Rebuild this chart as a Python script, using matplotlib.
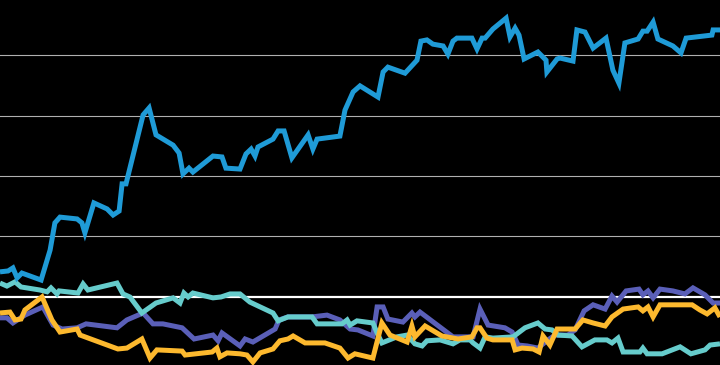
import numpy as np
import matplotlib
matplotlib.use("Agg")
from matplotlib import pyplot as plt

# Series data: day index (0..240) and percent change
blue_x = [0, 2.7, 4.3, 5.7, 7.3, 13.7, 16.7, 18.3, 20, 25.7, 27.3, 28.3, 31.3, 35.7, 37.7, 39.7,
          40.7, 42, 47.7, 49.7, 52, 57.7, 59.7, 61, 63, 64.3, 71, 74, 75.3, 80, 82, 83.7, 85, 86,
          91, 92.7, 94.7, 97.3, 102.7, 104.3, 105.7, 113.3, 115, 117.7, 120, 126, 127.7, 129.3,
          135, 139, 140.3, 142.3, 144.3, 147.7, 149.3, 151, 152.3, 157.3, 159, 160.7, 161.7,
          164.3, 168.7, 170, 171.7, 173, 174.7, 179.3, 182, 182.3, 185.7, 186.7, 191, 192.3, 195,
          197.7, 202, 204.3, 206.3, 208.3, 212.7, 214.3, 215.7, 217.7, 219.3, 224.3, 227, 228.7,
          237.3, 237.7, 240]
blue_y = [8.3, 8.6, 9.6, 6.3, 7.9, 5.6, 15.5, 24.5, 26.4, 25.8, 24.5, 21.2, 31.1, 29.1, 27.1, 28.4,
          37.4, 37.4, 60.2, 62.5, 53.6, 50.2, 47.6, 40.7, 42.6, 41.3, 46.6, 46.3, 42.6, 42.3, 47.3,
          48.9, 46.6, 49.6, 52.2, 54.9, 54.9, 46.0, 53.6, 48.9, 52.2, 53.2, 61.8, 67.8, 69.8, 66.1,
          74.4, 76.0, 74.0, 78.3, 84.6, 85.0, 83.6, 83.0, 80.3, 84.6, 85.6, 85.6, 82.0, 85.6, 85.6,
          88.6, 92.2, 86.0, 88.9, 86.6, 78.7, 81.0, 78.3, 74.4, 78.7, 79.0, 78.0, 88.3, 87.6, 82.3,
          85.6, 75.0, 70.7, 84.0, 85.3, 87.9, 87.9, 90.9, 85.3, 83.0, 80.7, 85.6, 86.6, 88.3, 88.3]

teal_x = [0, 2.3, 5, 7, 13.3, 15.7, 17, 19, 19.7, 26, 27.7, 29.3, 39, 41, 43.3, 47.3, 52, 57.7, 60,
          61.3, 62.7, 64.3, 71, 73.7, 76.7, 80, 83.3, 91, 92.7, 96, 104, 105.7, 114, 115.7, 116.7,
          119, 124.3, 125.7, 127.3, 132.3, 135.7, 138.3, 140.7, 142.3, 146.7, 151, 153.3, 156.7,
          157.7, 160, 161.7, 164.3, 171, 175, 179.3, 181.7, 184, 186, 190.7, 194, 198.3, 202.3,
          204, 206, 207.7, 213.3, 214.3, 215.7, 220.7, 226.7, 230.3, 235, 236.7, 240]
teal_y = [4.6, 3.6, 5.0, 3.3, 2.3, 1.7, 3.0, 1.0, 2.0, 1.3, 4.3, 2.3, 4.6, 1.0, 0, -5.3, -2.0, -0.3,
          -2.0, 1.3, 0, 1.3, -0.3, 0, 1.0, 1.0, -1.7, -5.3, -7.9, -6.6, -6.6, -8.9, -8.9, -7.6, -9.3,
          -7.9, -8.6, -11.9, -15.2, -13.2, -12.6, -15.5, -16.2, -14.5, -14.2, -15.5, -14.2, -14.2,
          -15.2, -16.9, -13.2, -13.6, -13.2, -10.2, -8.6, -10.6, -10.9, -12.6, -12.9, -16.5, -14.2,
          -14.2, -15.2, -13.6, -18.2, -18.2, -16.9, -18.8, -18.8, -16.5, -18.8, -17.5, -15.9, -15.5]

purple_x = [0, 2.3, 4.3, 8.3, 14.3, 17.7, 20.7, 25.7, 28.7, 39, 42.3, 47.7, 51, 54.3, 60.7, 64.7,
            71, 72.7, 74, 80, 81.7, 84.3, 91.7, 93, 96, 104, 109, 113.3, 116.7, 119.3, 124.3, 125.7,
            127.7, 129.3, 134.3, 137.3, 138.3, 140, 151, 157.7, 160, 162.7, 168.3, 170.7, 172.7,
            175.7, 179.3, 182.7, 185, 189.3, 191.7, 194.7, 197.7, 201.7, 204, 205.7, 208.7, 213,
            214.3, 216, 217.7, 220, 224.3, 228.3, 231, 235, 237.7, 240]
purple_y = [-6.9, -6.9, -8.6, -6.0, -3.3, -9.3, -10.6, -10.2, -8.9, -10.2, -7.6, -5.3, -8.9, -8.9,
            -10.2, -13.9, -12.6, -14.5, -11.9, -16.2, -13.9, -14.9, -10.6, -7.6, -6.6, -6.6, -6.0,
            -7.6, -10.6, -10.9, -12.9, -3.3, -3.3, -7.3, -8.3, -5.3, -6.6, -5.0, -13.2, -13.2, -4.0,
            -9.3, -10.2, -11.6, -15.9, -16.2, -16.9, -14.2, -12.6, -12.6, -10.9, -4.6, -2.6, -4.0,
            0.3, -1.7, 2.0, 2.6, 0.7, 2.0, -0.3, 2.6, 2.0, 1.0, 3.0, 0.7, -2.0, -2.0]

yellow_x = [0, 3.3, 5, 7, 8.3, 14, 17.3, 20, 25.7, 26.7, 39.3, 42.3, 47.3, 50, 52.3, 60.7, 61.7,
            70.7, 72.3, 73.3, 75.7, 80, 82.3, 84.3, 86.7, 91, 93.3, 96, 97.7, 101.7, 108.3, 113.3,
            116, 118.3, 124.3, 127.3, 130, 135.7, 137.3, 138.3, 141.7, 147.3, 152.7, 157.3, 159,
            160, 162.3, 164.3, 170.7, 171.7, 174, 177.7, 179.7, 181, 183.3, 185.7, 191.7, 194.3,
            197.7, 201.7, 204, 207.7, 212.7, 214.3, 216, 217.7, 220, 230.7, 233.3, 235.7, 238.3, 240]
yellow_y = [-5.3, -5.0, -7.6, -7.3, -4.3, 0, -7.6, -11.6, -10.6, -12.6, -17.2, -16.9, -13.9, -20.2,
            -17.5, -17.9, -19.2, -18.2, -16.9, -19.8, -18.5, -18.8, -19.2, -21.5, -18.5, -17.2,
            -14.5, -13.9, -12.9, -15.2, -15.2, -16.9, -20.2, -18.8, -20.2, -8.6, -12.6, -14.9, -9.6,
            -13.2, -9.6, -12.9, -13.9, -13.2, -10.2, -10.2, -13.6, -14.2, -14.2, -17.5, -16.9,
            -17.2, -18.2, -12.9, -15.9, -10.6, -10.6, -7.6, -8.6, -9.6, -6.6, -4.0, -3.3, -4.6,
            -3.3, -6.6, -2.6, -2.6, -4.3, -5.6, -3.6, -6.6]

grid_levels = [20, 40, 60, 80]

fig = plt.figure(figsize=(7.2, 3.65), dpi=100, facecolor="black")
ax = fig.add_axes([0, 0, 1, 1])
ax.set_facecolor("black")

for g in grid_levels:
    ax.axhline(g, color="#b0b0b0", lw=0.8, zorder=1)
ax.axhline(0, color="white", lw=1.6, zorder=1)

# draw order: purple under teal under yellow under blue
kw = dict(lw=3.6, solid_joinstyle="miter", solid_capstyle="butt")
ax.plot(purple_x, purple_y, color="#5a5fb8", zorder=2, **kw)
ax.plot(teal_x, teal_y, color="#66cccc", zorder=3, **kw)
ax.plot(yellow_x, yellow_y, color="#fdb92e", zorder=4, **kw)
ax.plot(blue_x, blue_y, color="#1f9bd7", zorder=5, **kw)

ax.set_xlim(0, 240)
ax.set_ylim(-22.5, 98.2)
ax.axis("off")

fig.savefig("out.png", dpi=100, facecolor="black")
